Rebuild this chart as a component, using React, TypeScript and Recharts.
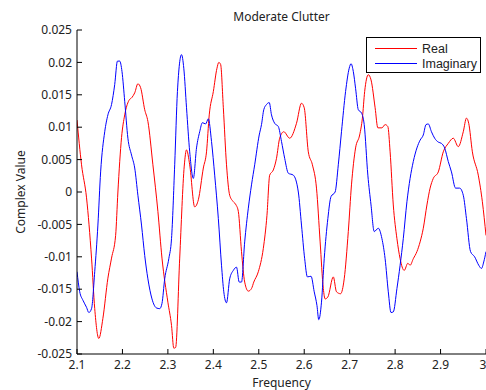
import { LineChart, Line, XAxis, YAxis, Legend } from 'recharts'

const realFreq = [2.1, 2.11, 2.121, 2.132, 2.139, 2.148, 2.157, 2.168, 2.176, 2.185, 2.19, 2.198, 2.205, 2.214, 2.221, 2.227, 2.234, 2.24, 2.249, 2.256, 2.267, 2.278, 2.287, 2.3, 2.308, 2.313, 2.317, 2.326, 2.336, 2.341, 2.348, 2.359, 2.367, 2.378, 2.385, 2.391, 2.4, 2.408, 2.412, 2.416, 2.422, 2.429, 2.436, 2.444, 2.45, 2.455, 2.462, 2.469, 2.477, 2.484, 2.489, 2.499, 2.51, 2.518, 2.524, 2.532, 2.539, 2.546, 2.555, 2.568, 2.583, 2.594, 2.6, 2.609, 2.618, 2.627, 2.635, 2.642, 2.646, 2.652, 2.664, 2.671, 2.68, 2.688, 2.697, 2.704, 2.713, 2.722, 2.728, 2.733, 2.741, 2.747, 2.756, 2.762, 2.771, 2.778, 2.784, 2.789, 2.796, 2.804, 2.811, 2.82, 2.828, 2.833, 2.84, 2.848, 2.855, 2.862, 2.87, 2.877, 2.884, 2.895, 2.906, 2.917, 2.928, 2.939, 2.95, 2.957, 2.962, 2.97, 2.983, 2.992, 3.0]
const realVals = [0.0111, 0.0042, -0.0009, -0.0102, -0.018, -0.0226, -0.0195, -0.0133, -0.0102, -0.0067, 0.0, 0.0084, 0.0119, 0.0141, 0.0146, 0.0153, 0.0167, 0.0161, 0.0127, 0.0109, 0.0042, -0.003, -0.0102, -0.017, -0.0206, -0.0241, -0.024, -0.0102, 0.004, 0.0065, 0.0042, -0.0023, -0.0012, 0.0037, 0.0062, 0.0119, 0.0155, 0.0191, 0.02, 0.0197, 0.013, 0.0042, -0.0005, -0.0015, -0.002, -0.003, -0.0092, -0.0139, -0.0153, -0.0149, -0.0139, -0.0123, -0.0087, -0.0036, 0.0026, 0.0034, 0.0052, 0.0083, 0.0093, 0.0083, 0.0106, 0.0137, 0.013, 0.0062, 0.0042, 0.0006, -0.0077, -0.0149, -0.0165, -0.0162, -0.0131, -0.0154, -0.0157, -0.0134, -0.0061, 0.0011, 0.0068, 0.0088, 0.0114, 0.0155, 0.0181, 0.0173, 0.013, 0.0099, 0.0099, 0.0104, 0.0101, 0.0062, -0.002, -0.0072, -0.0103, -0.0121, -0.011, -0.0113, -0.0103, -0.0092, -0.0077, -0.0056, -0.002, 0.0006, 0.0021, 0.0031, 0.0062, 0.0075, 0.0083, 0.007, 0.0093, 0.0114, 0.0106, 0.0062, 0.0026, -0.0015, -0.0067]

const imagFreq = [2.1, 2.106, 2.113, 2.121, 2.126, 2.132, 2.139, 2.146, 2.152, 2.161, 2.168, 2.176, 2.183, 2.189, 2.194, 2.199, 2.205, 2.212, 2.22, 2.227, 2.234, 2.242, 2.249, 2.256, 2.265, 2.275, 2.282, 2.287, 2.293, 2.302, 2.308, 2.315, 2.321, 2.33, 2.335, 2.341, 2.348, 2.356, 2.363, 2.37, 2.376, 2.383, 2.389, 2.396, 2.403, 2.411, 2.418, 2.423, 2.429, 2.436, 2.444, 2.451, 2.457, 2.462, 2.469, 2.477, 2.484, 2.491, 2.501, 2.506, 2.511, 2.517, 2.523, 2.528, 2.535, 2.543, 2.55, 2.557, 2.565, 2.576, 2.587, 2.594, 2.601, 2.607, 2.615, 2.622, 2.628, 2.632, 2.638, 2.644, 2.652, 2.659, 2.668, 2.675, 2.682, 2.691, 2.699, 2.703, 2.708, 2.713, 2.719, 2.726, 2.732, 2.74, 2.747, 2.754, 2.763, 2.771, 2.778, 2.785, 2.791, 2.796, 2.804, 2.811, 2.818, 2.826, 2.833, 2.84, 2.848, 2.855, 2.862, 2.868, 2.873, 2.88, 2.887, 2.895, 2.902, 2.909, 2.917, 2.924, 2.933, 2.942, 2.95, 2.957, 2.966, 2.975, 2.984, 2.99, 2.995, 3.0]
const imagVals = [-0.0123, -0.0154, -0.0167, -0.0178, -0.0186, -0.018, -0.0123, -0.0051, 0.0031, 0.0093, 0.0119, 0.0135, 0.0166, 0.0202, 0.0202, 0.0186, 0.014, 0.0083, 0.0057, 0.0037, -0.0005, -0.0051, -0.0098, -0.0134, -0.0165, -0.0179, -0.018, -0.0172, -0.0134, -0.0103, -0.0072, 0.0042, 0.0155, 0.0212, 0.0191, 0.013, 0.0062, 0.0021, 0.0068, 0.0093, 0.0107, 0.0105, 0.0113, 0.0078, 0.0026, -0.0041, -0.0113, -0.0154, -0.0171, -0.0134, -0.0121, -0.0116, -0.0139, -0.0139, -0.0077, -0.0025, 0.0011, 0.0042, 0.0088, 0.0104, 0.0127, 0.0135, 0.0138, 0.0119, 0.0106, 0.0101, 0.0078, 0.0052, 0.0029, 0.0026, 0.0, -0.0051, -0.0103, -0.0131, -0.013, -0.0154, -0.0175, -0.0197, -0.017, -0.0103, -0.0041, -0.0007, 0.0, 0.0042, 0.0093, 0.0155, 0.0191, 0.0198, 0.0186, 0.016, 0.0127, 0.0122, 0.0104, 0.0026, -0.002, -0.0061, -0.0056, -0.0072, -0.0103, -0.0154, -0.0186, -0.0185, -0.0149, -0.0113, -0.0072, -0.0015, 0.0021, 0.0047, 0.0068, 0.008, 0.0088, 0.0104, 0.0105, 0.0093, 0.0083, 0.0077, 0.0075, 0.0068, 0.0047, 0.0031, 0.0006, 0.0006, -0.0005, -0.0041, -0.0092, -0.01, -0.0113, -0.0118, -0.0108, -0.0092]

const seriesNames = ['Real', 'Imaginary']
const xTicks = [2.1, 2.2, 2.3, 2.4, 2.5, 2.6, 2.7, 2.8, 2.9, 3]
const yTicks = [-0.025, -0.02, -0.015, -0.01, -0.005, 0, 0.005, 0.01, 0.015, 0.02, 0.025]

const realData = realFreq.map((f, i) => ({ f, v: realVals[i] }))
const imagData = imagFreq.map((f, i) => ({ f, v: imagVals[i] }))

const font = '"Noto Sans", sans-serif'
const tickStyle = { fontSize: 12, fill: '#222', fontFamily: font }
const noTick = () => <g />

// legend rows are only 15px apart, so use a font with tighter line metrics here
function MatlabLegend({ payload }: any) {
  const items = [...(payload || [])].sort((a: any, b: any) => seriesNames.indexOf(a.value) - seriesNames.indexOf(b.value))
  return (
    <div style={{ border: '1px solid #000', background: '#fff', width: 113, height: 34, fontFamily: '"Liberation Sans", Arial, sans-serif', fontSize: 12.5, color: '#222', boxSizing: 'content-box' }}>
      {items.map((p: any, i: number) => (
        <div key={p.value} style={{ display: 'flex', alignItems: 'center', height: 15, marginTop: i === 0 ? 3 : 0 }}>
          <span style={{ display: 'inline-block', marginLeft: 8, width: 42, height: 0, borderTop: `1px solid ${p.color}` }} />
          <span style={{ marginLeft: 5, lineHeight: '14px' }}>{p.value}</span>
        </div>
      ))}
    </div>
  )
}

export default function App() {
  return (
    <div style={{ position: 'absolute', left: 0, top: 0, width: 486, height: 390, overflow: 'hidden', background: '#fff' }}>
      <div style={{ position: 'absolute', left: 77, width: 409, top: 8, textAlign: 'center', fontFamily: font, fontSize: 12, color: '#222' }}>Moderate Clutter</div>
      <div style={{ position: 'absolute', left: 77, width: 409, top: 374, textAlign: 'center', fontFamily: font, fontSize: 12, color: '#222' }}>Frequency</div>
      <div style={{ position: 'absolute', left: 20, top: 192, transform: 'translate(-50%, -50%) rotate(-90deg)', whiteSpace: 'nowrap', fontFamily: font, fontSize: 12, color: '#222' }}>Complex Value</div>
      <LineChart width={486} height={390} data={realData} margin={{ top: 30, right: 0, bottom: 0, left: 0 }}>
        <XAxis dataKey="f" type="number" domain={[2.1, 3]} ticks={xTicks} allowDataOverflow height={36}
          stroke="#000" tickSize={-5} tickMargin={11} tick={tickStyle} tickFormatter={(v: number) => String(v)} />
        <XAxis xAxisId="top" orientation="top" dataKey="f" type="number" domain={[2.1, 3]} ticks={xTicks} allowDataOverflow height={0}
          stroke="#000" tickSize={-5} tick={noTick} />
        <YAxis type="number" domain={[-0.025, 0.025]} ticks={yTicks} allowDataOverflow width={77}
          stroke="#000" tickSize={-5} tickMargin={10} tick={tickStyle} tickFormatter={(v: number) => String(v)} />
        <YAxis yAxisId="right" orientation="right" type="number" domain={[-0.025, 0.025]} ticks={yTicks} allowDataOverflow width={0}
          stroke="#000" tickSize={-5} tick={noTick} />
        <Legend content={<MatlabLegend />} layout="horizontal" verticalAlign="middle" align="center"
          wrapperStyle={{ position: 'absolute', top: 37, left: 366, width: 115, bottom: 'auto', right: 'auto' }} />
        <Line data={realData} dataKey="v" name="Real" type="monotone" stroke="#ff0000" strokeWidth={1} dot={false} isAnimationActive={false} />
        <Line data={imagData} dataKey="v" name="Imaginary" type="monotone" stroke="#0000ff" strokeWidth={1} dot={false} isAnimationActive={false} />
      </LineChart>
    </div>
  )
}
